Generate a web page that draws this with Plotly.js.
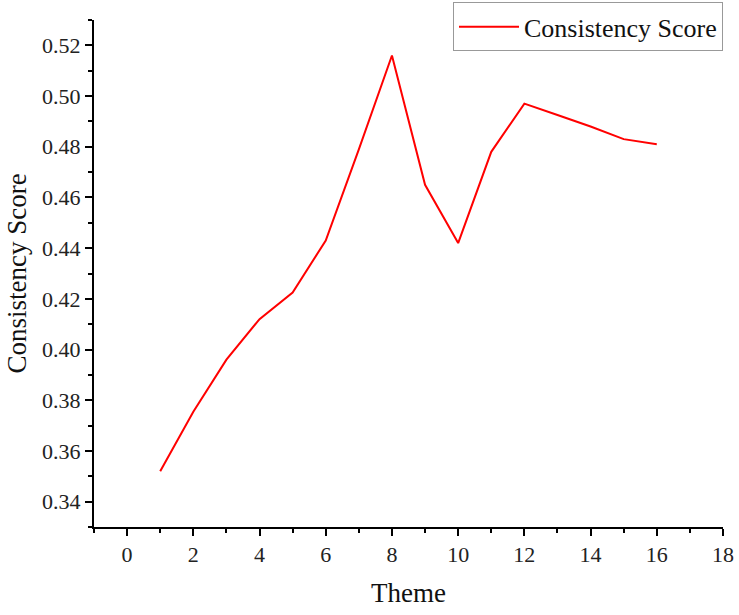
<!DOCTYPE html>
<html>
<head>
<meta charset="utf-8">
<script src="https://cdn.plot.ly/plotly-3.0.1.min.js"></script>
<style>html,body{margin:0;padding:0;background:#fff;}#chart{width:739px;height:615px;}</style>
</head>
<body>
<div id="chart"></div>
<script>
const themes = [1,2,3,4,5,6,7,8,9,10,11,12,13,14,15,16];
const consistencyScore = [0.352,0.3755,0.396,0.412,0.4225,0.443,0.479,0.516,0.465,0.442,0.478,0.497,0.4925,0.488,0.483,0.481];
const seriesName = 'Consistency Score';
const xTitle = 'Theme';
const yTitle = 'Consistency Score';

const font = '"Liberation Serif", "Times New Roman", serif';
Plotly.newPlot('chart', [{
  x: themes, y: consistencyScore, type: 'scatter', mode: 'lines', name: seriesName,
  line: {color: '#ff0000', width: 2}
}], {
  width: 739, height: 615,
  margin: {l: 94, r: 16, t: 20, b: 88, autoexpand: false},
  paper_bgcolor: '#fff', plot_bgcolor: '#fff',
  font: {family: font, color: '#222', size: 22},
  showlegend: true,
  legend: {x: 1, xanchor: 'right', y: 1.035, yanchor: 'top', bordercolor: '#999', borderwidth: 1,
    font: {family: font, size: 26, color: '#111'}, itemwidth: 60, bgcolor: '#fff', tracegroupgap: 0},
  xaxis: {range: [-1, 18], tickvals: [0,2,4,6,8,10,12,14,16,18], ticks: 'outside', ticklen: 7, tickwidth: 2,
    tickcolor: '#000', showline: true, linecolor: '#000', linewidth: 2, showgrid: false, zeroline: false,
    minor: {tickvals: [-1,1,3,5,7,9,11,13,15,17], ticks: 'outside', ticklen: 4, tickwidth: 2, tickcolor: '#000'},
    title: {text: xTitle, font: {family: font, size: 27, color: '#111'}, standoff: 17},
    tickfont: {family: font, size: 22, color: '#222'}},
  yaxis: {range: [0.33, 0.53], tickvals: [0.34,0.36,0.38,0.40,0.42,0.44,0.46,0.48,0.50,0.52], tickformat: '.2f',
    ticks: 'outside', ticklen: 7, tickwidth: 2, tickcolor: '#000', showline: true, linecolor: '#000', linewidth: 2,
    showgrid: false, zeroline: false,
    minor: {tickvals: [0.33,0.35,0.37,0.39,0.41,0.43,0.45,0.47,0.49,0.51,0.53], ticks: 'outside', ticklen: 4, tickwidth: 2, tickcolor: '#000'},
    title: {text: yTitle, font: {family: font, size: 27, color: '#111'}, standoff: 8},
    tickfont: {family: font, size: 22, color: '#222'}}
}, {displayModeBar: false, staticPlot: true});
</script>
</body>
</html>
